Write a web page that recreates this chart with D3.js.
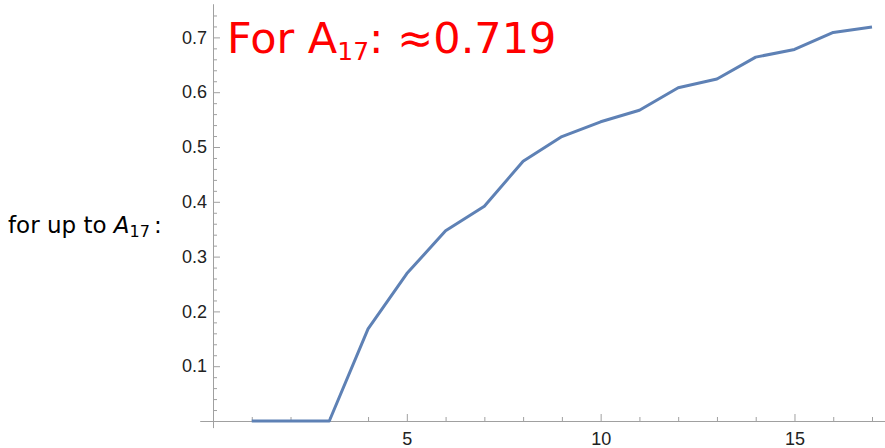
<!DOCTYPE html>
<html>
<head>
<meta charset="utf-8">
<script src="https://cdn.jsdelivr.net/npm/d3@7"></script>
<style>
  html, body { margin: 0; padding: 0; background: #fff; }
  svg { display: block; }
</style>
</head>
<body>
<svg id="chart" width="885" height="448"></svg>
<script>
// ---- data ----
const xValues = [1,2,3,4,5,6,7,8,9,10,11,12,13,14,15,16,17];
const yValues = [0,0,0,0.168,0.269,0.347,0.392,0.474,0.519,0.546,0.567,0.608,0.624,0.664,0.678,0.709,0.719];
const xMajorTicks = [5,10,15];
const xMinorTicks = [1,2,3,4,6,7,8,9,11,12,13,14,16,17];
const yMajorTicks = [0.1,0.2,0.3,0.4,0.5,0.6,0.7];
const yMinorTicks = [0.02,0.04,0.06,0.08,0.12,0.14,0.16,0.18,0.22,0.24,0.26,0.28,0.32,0.34,0.36,0.38,0.42,0.44,0.46,0.48,0.52,0.54,0.56,0.58,0.62,0.64,0.66,0.68,0.72,0.74];
const titleMain = "For A";
const titleSub = "17";
const titleRest = ": \u22480.719";
const sideLabel = { pre: "for up to ", sym: "A", sub: "17", post: ":" };

// ---- scales ----
const svg = d3.select("#chart");
const x = d3.scaleLinear().domain([0, 17]).range([213, 872]);
const y = d3.scaleLinear().domain([0, 0.7]).range([421, 37.4]);

const axisColor = "#a0a0a0";
const labelFont = "'Liberation Sans', Arial, sans-serif";

// axis lines
svg.append("line")
  .attr("x1", x(-0.33)).attr("x2", 885)
  .attr("y1", y(0) + 0.5).attr("y2", y(0) + 0.5)
  .attr("stroke", axisColor).attr("stroke-width", 1);
svg.append("line")
  .attr("x1", x(0) + 0.5).attr("x2", x(0) + 0.5)
  .attr("y1", y(0.7605)).attr("y2", y(-0.013))
  .attr("stroke", axisColor).attr("stroke-width", 1);

// y axis ticks
const gyMinor = svg.append("g").attr("transform", `translate(${x(0)},0)`)
  .call(d3.axisLeft(y).tickValues(yMinorTicks).tickSize(-4).tickFormat(""));
const gyMajor = svg.append("g").attr("transform", `translate(${x(0)},0)`)
  .call(d3.axisLeft(y).tickValues(yMajorTicks).tickSize(-7).tickPadding(6).tickFormat(d3.format(".1f")));

// x axis ticks
const gxMinor = svg.append("g").attr("transform", `translate(0,${y(0)})`)
  .call(d3.axisBottom(x).tickValues(xMinorTicks).tickSize(-4).tickFormat(""));
const gxMajor = svg.append("g").attr("transform", `translate(0,${y(0)})`)
  .call(d3.axisBottom(x).tickValues(xMajorTicks).tickSize(-7).tickPadding(11).tickFormat(d3.format("d")));

[gyMinor, gyMajor, gxMinor, gxMajor].forEach(g => {
  g.select(".domain").remove();
  g.selectAll(".tick line").attr("stroke", axisColor);
  g.selectAll(".tick text").attr("fill", "#222").style("font-family", labelFont).style("font-size", "18px");
});

// data line
const line = d3.line().x((d, i) => x(xValues[i])).y(d => y(d));
svg.append("path")
  .datum(yValues)
  .attr("d", line)
  .attr("fill", "none")
  .attr("stroke", "#5e81b5")
  .attr("stroke-width", 3)
  .attr("stroke-linejoin", "round");

// side label
const side = svg.append("text")
  .attr("x", 8).attr("y", 233)
  .style("font-family", "'DejaVu Sans', sans-serif")
  .style("font-size", "23px")
  .attr("fill", "#000");
side.append("tspan").text(sideLabel.pre);
side.append("tspan").style("font-style", "italic").text(sideLabel.sym);
side.append("tspan").attr("dy", 4).style("font-size", "16px").text(sideLabel.sub);
side.append("tspan").attr("dy", -4).attr("dx", 4).text(sideLabel.post);

// title
const title = svg.append("text")
  .attr("x", 227).attr("y", 52.7)
  .style("font-family", "'DejaVu Sans', sans-serif")
  .style("font-size", "43px")
  .attr("fill", "#ff0000");
title.append("tspan").text(titleMain);
title.append("tspan").attr("dy", 7).style("font-size", "25px").text(titleSub);
title.append("tspan").attr("dy", -7).text(titleRest);
</script>
</body>
</html>
